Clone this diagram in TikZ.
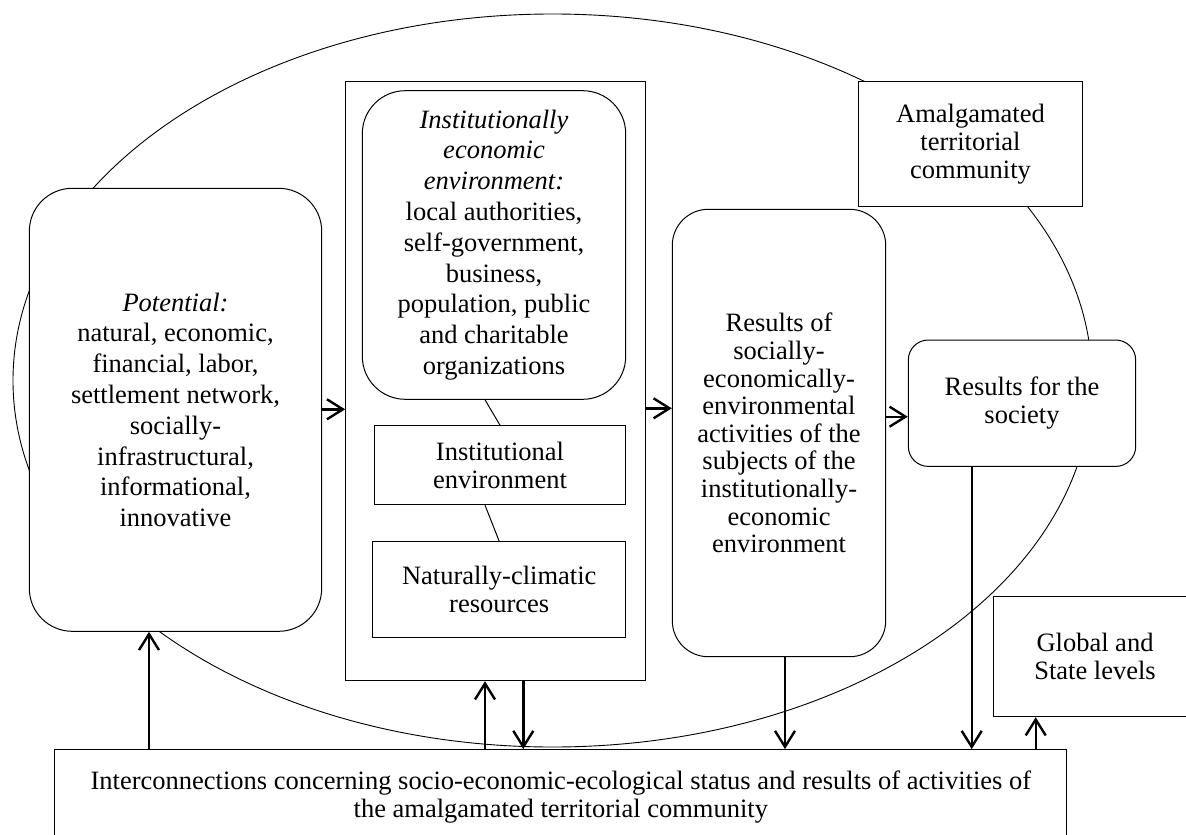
\documentclass[tikz,border=0pt]{standalone}
\usepackage{fontspec}
\setmainfont{Liberation Serif}
\usetikzlibrary{arrows.meta}
\begin{document}
\begin{tikzpicture}[x=0.5pt,y=-0.5pt,
  box/.style={draw, line width=0.5pt, fill=white, align=center, inner sep=0pt,
    font=\fontsize{13.25}{14}\selectfont},
  loose/.style={font=\fontsize{13.25}{15.4}\selectfont},
  mid/.style={font=\fontsize{13.25}{13.8}\selectfont},
  arr/.style={line width=1.2pt, -{Straight Barb[length=8pt,width=10pt]}},
  thinline/.style={line width=0.5pt},
  ell/.style={line width=0.45pt}]
\path[use as bounding box] (0,0) rectangle (1186,834);
\clip (0,0) rectangle (1186,834);

% outer ellipse
\draw[ell] (552.5,380.5) ellipse [x radius=269.75pt, y radius=183.25pt];

% nodes
\node[box, loose, rounded corners=21.5pt, minimum width=146.2pt, minimum height=221.5pt] (pot) at (175.5,409.8)
  {\textit{Potential:}\\natural, economic,\\financial, labor,\\settlement network,\\socially-\\infrastructural,\\informational,\\innovative};
\node[box, minimum width=150pt, minimum height=299.5pt] (big) at (495.7,381.2) {};
\node[box, loose, rounded corners=21.5pt, minimum width=131.7pt, minimum height=154.3pt] (inst) at (494,245)
  {\textit{Institutionally}\\\textit{economic}\\\textit{environment:}\\local authorities,\\self-government,\\business,\\population, public\\and charitable\\organizations};
\node[box, minimum width=125.7pt, minimum height=39.5pt] (ienv) at (500,465.2) {Institutional\\environment};
\node[box, minimum width=126.5pt, minimum height=47.8pt] (nat) at (499.2,589.5) {Naturally-climatic\\resources};
\node[box, mid, rounded corners=18pt, minimum width=106.7pt, minimum height=223.7pt] (res) at (779,433)
  {Results of\\socially-\\economically-\\environmental\\activities of the\\subjects of the\\institutionally-\\economic\\environment};
\node[box, rounded corners=10pt, minimum width=113.7pt, minimum height=63.2pt] (soc) at (1022,403.2) {Results for the\\society};
\node[box, minimum width=112.2pt, minimum height=62.2pt] (amal) at (970.5,143.9) {Amalgamated\\territorial\\community};
\node[box, minimum width=101.9pt, minimum height=60pt] (glob) at (1095,656.7) {Global and\\State levels};
\node[box, minimum width=505.9pt, minimum height=47.7pt] (inter) at (560.8,797.3)
  {Interconnections concerning socio-economic-ecological status and results of activities of\\the amalgamated territorial community};

% thin links inside the big box
\draw[thinline] ([xshift=-4.5pt]inst.south) -- (ienv.north);
\draw[thinline] ([xshift=-7.5pt]ienv.south) -- (nat.north);

% helper coordinates for connector positions
\coordinate (xa) at (149,0);
\coordinate (xb) at (485,0);
\coordinate (xc) at (523.3,0);
\coordinate (xd) at (785,0);
\coordinate (xe) at (971.7,0);
\coordinate (xf) at (1035.7,0);
\coordinate (ya) at (0,409.3);
\coordinate (yb) at (0,408.3);
\coordinate (yc) at (0,416.7);

% horizontal arrows
\draw[arr] (pot.east |- ya) -- (big.west |- ya);
\draw[arr] (big.east |- yb) -- (res.west |- yb);
\draw[arr] (res.east |- yc) -- (soc.west |- yc);

% vertical arrows
\draw[arr] (inter.north -| xa) -- (pot.south -| xa);
\draw[arr] (inter.north -| xb) -- (big.south -| xb);
\draw[arr] (big.south -| xc) -- (inter.north -| xc);
\draw[arr] (res.south -| xd) -- (inter.north -| xd);
\draw[arr] (soc.south -| xe) -- (inter.north -| xe);
\draw[arr] (inter.north -| xf) -- (glob.south -| xf);
\end{tikzpicture}
\end{document}
